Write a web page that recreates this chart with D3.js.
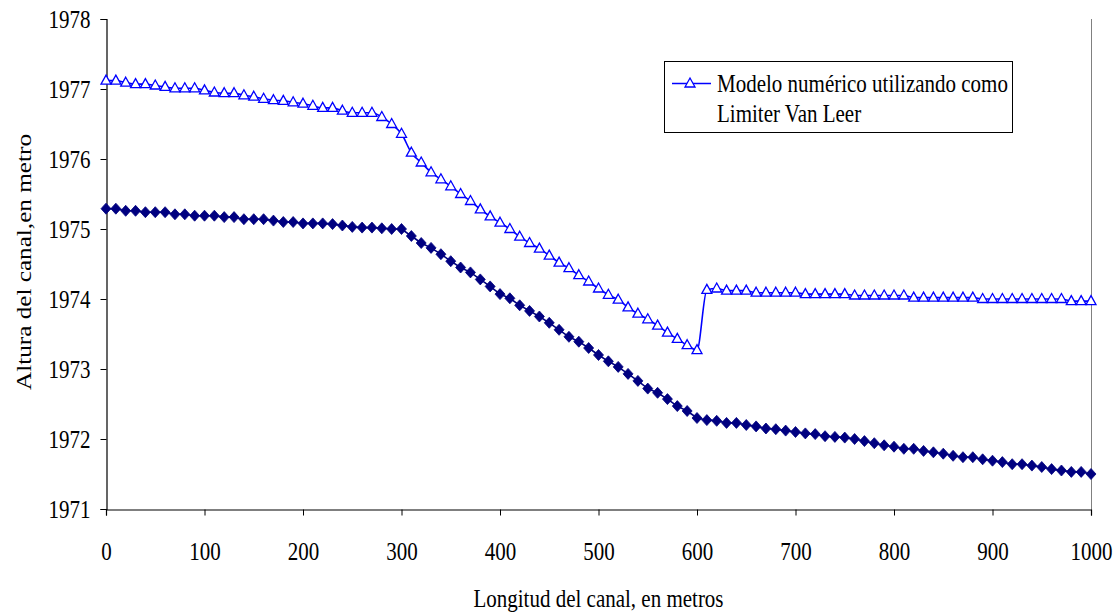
<!DOCTYPE html>
<html><head><meta charset="utf-8">
<script src="https://cdn.jsdelivr.net/npm/d3@7"></script>
<style>
body{margin:0;background:#fff}
svg{display:block}
text{font-family:"Liberation Serif","Times New Roman",serif;fill:#000}
</style>
</head><body>
<svg id="c" width="1118" height="613"></svg>
<script>
const distances = [0,10,20,30,40,50,60,70,80,90,100,110,120,130,140,150,160,170,180,190,200,
210,220,230,240,250,260,270,280,290,300,310,320,330,340,350,360,370,380,390,400,
410,420,430,440,450,460,470,480,490,500,510,520,530,540,550,560,570,580,590,600,
610,620,630,640,650,660,670,680,690,700,710,720,730,740,750,760,770,780,790,800,
810,820,830,840,850,860,870,880,890,900,910,920,930,940,950,960,970,980,990,1000];

const vanLeer = [1977.12,1977.12,1977.09,1977.07,1977.07,1977.05,1977.03,1977.01,1977.01,1977.01,
1976.98,1976.95,1976.94,1976.94,1976.91,1976.89,1976.86,1976.84,1976.83,1976.81,
1976.79,1976.76,1976.73,1976.73,1976.69,1976.66,1976.66,1976.66,1976.60,1976.50,
1976.36,1976.09,1975.95,1975.81,1975.71,1975.61,1975.50,1975.40,1975.28,1975.18,
1975.09,1975.00,1974.89,1974.80,1974.72,1974.62,1974.52,1974.44,1974.34,1974.25,
1974.15,1974.06,1973.99,1973.88,1973.79,1973.71,1973.62,1973.52,1973.43,1973.34,
1973.27,1974.13,1974.15,1974.12,1974.12,1974.12,1974.09,1974.09,1974.09,1974.09,
1974.09,1974.07,1974.07,1974.07,1974.07,1974.07,1974.05,1974.05,1974.05,1974.05,
1974.05,1974.05,1974.02,1974.02,1974.02,1974.02,1974.02,1974.02,1974.02,1974.00,
1974.00,1974.00,1974.00,1974.00,1974.00,1974.00,1974.00,1974.00,1973.97,1973.97,1973.97];

const fondo = [1975.29,1975.29,1975.26,1975.26,1975.24,1975.24,1975.24,1975.21,1975.21,1975.19,
1975.19,1975.19,1975.17,1975.17,1975.14,1975.14,1975.14,1975.12,1975.10,1975.10,
1975.08,1975.08,1975.08,1975.07,1975.05,1975.03,1975.02,1975.02,1975.01,1975.00,
1975.00,1974.90,1974.80,1974.73,1974.64,1974.54,1974.45,1974.38,1974.28,1974.18,
1974.07,1974.01,1973.91,1973.83,1973.75,1973.66,1973.56,1973.46,1973.39,1973.30,
1973.20,1973.11,1973.03,1972.93,1972.83,1972.72,1972.66,1972.57,1972.47,1972.40,
1972.30,1972.27,1972.26,1972.23,1972.23,1972.20,1972.18,1972.15,1972.14,1972.12,
1972.10,1972.08,1972.07,1972.04,1972.03,1972.02,1972.00,1971.97,1971.94,1971.91,
1971.89,1971.86,1971.86,1971.83,1971.81,1971.79,1971.76,1971.74,1971.74,1971.71,
1971.69,1971.67,1971.64,1971.64,1971.62,1971.60,1971.57,1971.55,1971.53,1971.53,1971.50];

const xTicks = [0,100,200,300,400,500,600,700,800,900,1000];
const yTicks = [1971,1972,1973,1974,1975,1976,1977,1978];
const legendLines = ["Modelo numérico utilizando como","Limiter Van Leer"];
const xTitle = "Longitud del canal, en metros";
const yTitle = "Altura del canal,en metro";

const svg = d3.select("#c");
const FS = 21, SY = 1.2;
const L = 106, R = 1091, T = 19, B = 509;
const x = d3.scaleLinear().domain([0,1000]).range([L,R]);
const y = d3.scaleLinear().domain([1971,1978]).range([B,T]);

// right border
svg.append("line").attr("x1",R+0.5).attr("x2",R+0.5).attr("y1",T).attr("y2",B)
  .attr("stroke","#808080").attr("stroke-width",1);

// axes
const gx = svg.append("g").attr("transform",`translate(0,${B+0.5})`)
  .call(d3.axisBottom(x).tickValues(xTicks).tickSize(6).tickFormat(d3.format("d")));
const gy = svg.append("g").attr("transform",`translate(${L+0.5},0)`)
  .call(d3.axisLeft(y).tickValues(yTicks).tickSize(6).tickFormat(d3.format("d")));
[gx,gy].forEach(g=>{
  g.select(".domain").attr("stroke","#000").attr("stroke-width",1.2);
  g.selectAll(".tick line").attr("stroke","#000").attr("stroke-width",1);
  g.selectAll(".tick text").attr("font-size",FS).attr("font-family",null);
});
gx.selectAll(".tick text").attr("y",0).attr("dy",null)
  .attr("transform",`translate(0,50) scale(1,${SY})`);
gy.selectAll(".tick text").attr("x",0).attr("dy",null)
  .attr("transform",`translate(-16,8.5) scale(1,${SY})`);

// lines
const ptsA = distances.map((d,i)=>[x(d),y(vanLeer[i])]);
const ptsB = distances.map((d,i)=>[x(d),y(fondo[i])]);
svg.append("path").attr("d",d3.line().curve(d3.curveLinear)(ptsB))
  .attr("fill","none").attr("stroke","#000080").attr("stroke-width",1.6);
svg.append("path").attr("d",d3.line().curve(d3.curveMonotoneX)(ptsA))
  .attr("fill","none").attr("stroke","#0000FF").attr("stroke-width",1.6);

// markers
const tri = "M0,-5.5L5,3.5L-5,3.5Z";
const dia = "M0,-5.5L5,0L0,5.5L-5,0Z";
svg.append("g").selectAll("path").data(ptsB).join("path")
  .attr("d",dia).attr("transform",p=>`translate(${p[0]},${p[1]})`)
  .attr("fill","#000080").attr("stroke","#000080").attr("stroke-width",0.8);
svg.append("g").selectAll("path").data(ptsA).join("path")
  .attr("d",tri).attr("transform",p=>`translate(${p[0]},${p[1]})`)
  .attr("fill","#fff").attr("stroke","#0000FF").attr("stroke-width",1.3);

// legend
const lg = svg.append("g");
lg.append("rect").attr("x",664.5).attr("y",61.5).attr("width",348).attr("height",71)
  .attr("fill","#fff").attr("stroke","#000").attr("stroke-width",1);
lg.append("line").attr("x1",672).attr("x2",711).attr("y1",83.5).attr("y2",83.5)
  .attr("stroke","#0000FF").attr("stroke-width",1.6);
lg.append("path").attr("d",tri).attr("transform","translate(690,83.5)")
  .attr("fill","#fff").attr("stroke","#0000FF").attr("stroke-width",1.3);
legendLines.forEach((t,i)=>{
  lg.append("text").text(t).attr("font-size",FS)
    .attr("transform",`translate(717,${92+i*30}) scale(1,${SY})`);
});

// titles
svg.append("text").text(xTitle).attr("font-size",FS).attr("text-anchor","middle")
  .attr("transform",`translate(${(L+R)/2},607) scale(1,${SY})`);
svg.append("text").text(yTitle).attr("font-size",FS).attr("text-anchor","middle")
  .attr("transform",`translate(31,262) rotate(-90) scale(${SY},1)`);
</script>
</body></html>
